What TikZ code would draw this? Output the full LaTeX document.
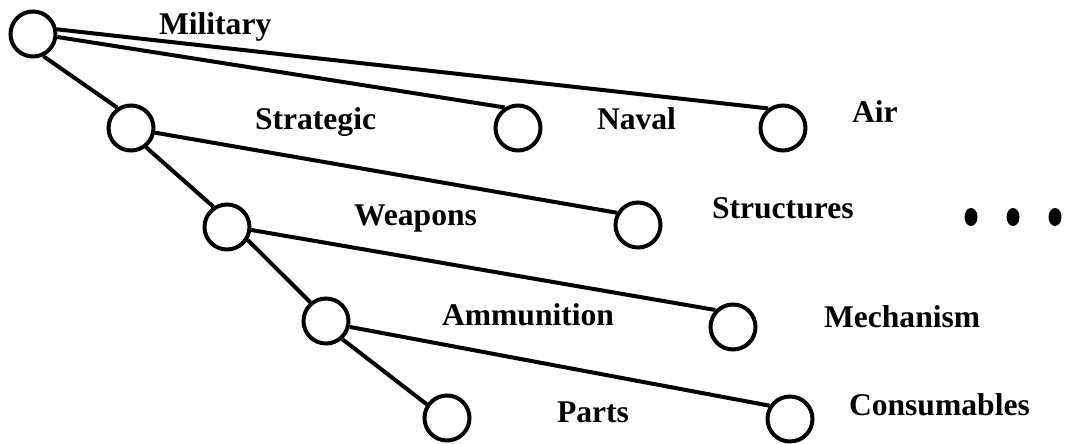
\documentclass[tikz,border=0pt]{standalone}
\usepackage{fontspec}
\setmainfont{Liberation Serif}
\begin{document}
\begin{tikzpicture}[x=0.5pt,y=-0.5pt,line width=2pt,
        leaf/.style={circle,draw,minimum size=22.5pt,inner sep=0pt},
        lbl/.style={anchor=base west,inner sep=0pt,font=\fontsize{15.8}{18}\selectfont\bfseries}]
    \useasboundingbox (0,0) rectangle (1065,444);
    \node[leaf] (mil) at (33,34) {};
    \node[leaf] (strat) at (131,128) {};
    \node[leaf] (naval) at (518,128) {};
    \node[leaf] (air) at (783,128) {};
    \node[leaf] (weap) at (227,227) {};
    \node[leaf] (struct) at (638,225) {};
    \node[leaf] (ammo) at (326,321) {};
    \node[leaf] (mech) at (733,327) {};
    \node[leaf] (parts) at (447,418) {};
    \node[leaf] (cons) at (790,419) {};
    \node[lbl] (milLbl) at (157,35) {Military};
    \node[lbl] (stratLbl) at (253,130) {Strategic};
    \node[lbl] (navalLbl) at (595,129) {Naval};
    \node[lbl] (airLbl) at (850,123) {Air};
    \node[lbl] (weapLbl) at (352,225) {Weapons};
    \node[lbl] (structLbl) at (710,218) {Structures};
    \node[lbl] (ammoLbl) at (440,325) {Ammunition};
    \node[lbl] (mechLbl) at (822,327) {Mechanism};
    \node[lbl] (partsLbl) at (555,422) {Parts};
    \node[lbl] (consLbl) at (847,415) {Consumables};
    \draw (mil.11) -- (air.127);
    \draw (mil.-7) -- (naval.123);
    \draw (mil.-65) -- (strat.124);
    \draw (strat.-11) -- (struct.150);
    \draw (strat.-52) -- (weap.124);
    \draw (weap.-7) -- (mech.136);
    \draw (weap.-32) -- (ammo.130);
    \draw (ammo.-14) -- (cons.147);
    \draw (ammo.-48) -- (parts.146);
    \foreach \x in {971,1013,1055} {
        \fill (\x,217) ellipse [x radius=6.5,y radius=9];
    }
\end{tikzpicture}
\end{document}
